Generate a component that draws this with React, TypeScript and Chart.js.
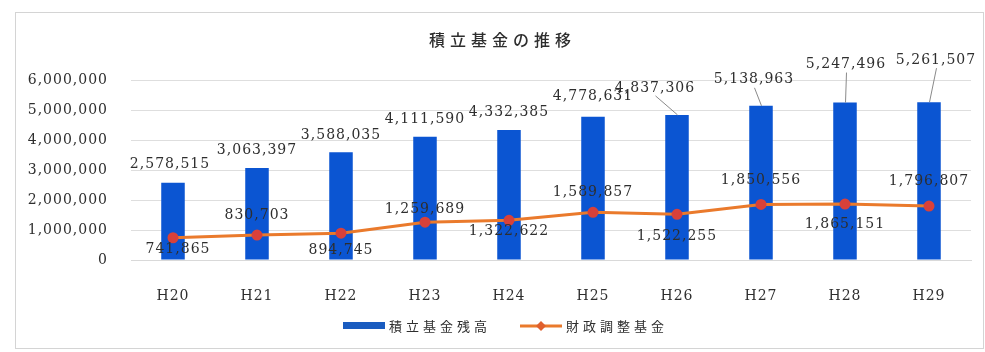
import React, { useEffect, useRef } from "react";
import { Chart, registerables } from "chart.js";

Chart.register(...registerables);

const categories = ["H20", "H21", "H22", "H23", "H24", "H25", "H26", "H27", "H28", "H29"];
const reserveFundBalance = [2578515, 3063397, 3588035, 4111590, 4332385, 4778631, 4837306, 5138963, 5247496, 5261507];
const fiscalAdjustmentFund = [741865, 830703, 894745, 1259689, 1322622, 1589857, 1522255, 1850556, 1865151, 1796807];
const yTicks = [0, 1000000, 2000000, 3000000, 4000000, 5000000, 6000000];
const chartTitle = "積立基金の推移";
const seriesNames = ["積立基金残高", "財政調整基金"];

const BAR_COLOR = "#0b55d2";
const LINE_COLOR = "#ea7a2c";
const MARKER_COLOR = "#d8413a";
const TEXT_COLOR = "#2e2e2e";
const NUM_FONT = "14px 'DejaVu Serif'";
const CJK = "'Noto Sans CJK JP'";

// label placement styling (pixel offsets relative to marks)
const barLabelLift = [18, 18, 17, 17, 18, 20, 27, 26, 38, 42];
const barLabelShift = [-3, 0, 0, 0, 0, 0, -22, -7, 1, 7];
const lineLabelOffset = [12, -20, 17, -13, 11, -20, 22, -24, 20, -25];
const lineLabelShift = [5, 0, 0, 0, 0, 0, 0, 0, 0, 0];

const fmt = (v: number) => v.toLocaleString("en-US");

const customPlugin = {
  id: "custom",
  beforeDraw(chart: any) {
    const ctx = chart.ctx;
    ctx.save();
    ctx.fillStyle = "#ffffff";
    ctx.fillRect(0, 0, chart.width, chart.height);
    ctx.strokeStyle = "#d4d4d4";
    ctx.lineWidth = 1;
    ctx.strokeRect(15.5, 12.5, chart.width - 17, chart.height - 16);
    ctx.restore();
    (ctx as any).letterSpacing = "1px";
  },
  afterDraw(chart: any) {
    const ctx = chart.ctx;
    ctx.save();
    // title
    (ctx as any).letterSpacing = "5px";
    ctx.fillStyle = TEXT_COLOR;
    ctx.font = `500 16px ${CJK}`;
    ctx.textAlign = "center";
    ctx.textBaseline = "middle";
    ctx.fillText(chartTitle, chart.width / 2 + 10, 40);

    // bar labels
    (ctx as any).letterSpacing = "1px";
    ctx.font = NUM_FONT;
    const barMeta = chart.getDatasetMeta(0);
    barMeta.data.forEach((el: any, i: number) => {
      const x = el.x + barLabelShift[i];
      const y = el.y - barLabelLift[i];
      if (barLabelLift[i] > 22) {
        ctx.strokeStyle = "#8a8a8a";
        ctx.lineWidth = 1;
        ctx.beginPath();
        ctx.moveTo(x + 0.5, y + 8);
        ctx.lineTo(el.x + 0.5, el.y);
        ctx.stroke();
      }
      ctx.fillStyle = TEXT_COLOR;
      ctx.fillText(fmt(reserveFundBalance[i]), x, y);
    });
    // line labels
    const lineMeta = chart.getDatasetMeta(1);
    lineMeta.data.forEach((el: any, i: number) => {
      ctx.fillStyle = TEXT_COLOR;
      ctx.fillText(fmt(fiscalAdjustmentFund[i]), el.x + lineLabelShift[i], el.y + lineLabelOffset[i]);
    });

    // legend
    const ly = 326;
    ctx.fillStyle = "#1a5cc0";
    ctx.fillRect(343, ly - 4, 42, 7);
    (ctx as any).letterSpacing = "4px";
    ctx.font = `13px ${CJK}`;
    ctx.textAlign = "left";
    ctx.fillStyle = TEXT_COLOR;
    ctx.fillText(seriesNames[0], 389, ly);
    ctx.strokeStyle = LINE_COLOR;
    ctx.lineWidth = 3;
    ctx.beginPath();
    ctx.moveTo(520, ly);
    ctx.lineTo(562, ly);
    ctx.stroke();
    ctx.fillStyle = "#e0602e";
    ctx.beginPath();
    ctx.moveTo(541, ly - 5);
    ctx.lineTo(546, ly);
    ctx.lineTo(541, ly + 5);
    ctx.lineTo(536, ly);
    ctx.closePath();
    ctx.fill();
    ctx.fillStyle = TEXT_COLOR;
    ctx.fillText(seriesNames[1], 566, ly);
    ctx.restore();
    (ctx as any).letterSpacing = "0px";
  },
};

export default function App() {
  const ref = useRef<HTMLCanvasElement>(null);
  useEffect(() => {
    document.body.style.margin = "0";
    const canvas = ref.current;
    if (!canvas) return;
    const chart = new Chart(canvas, {
      type: "bar",
      data: {
        labels: categories,
        datasets: [
          {
            type: "bar",
            label: seriesNames[0],
            data: reserveFundBalance,
            backgroundColor: BAR_COLOR,
            barPercentage: 0.28,
            categoryPercentage: 1,
            order: 2,
          },
          {
            type: "line",
            label: seriesNames[1],
            data: fiscalAdjustmentFund,
            borderColor: LINE_COLOR,
            borderWidth: 3,
            pointBackgroundColor: MARKER_COLOR,
            pointBorderColor: MARKER_COLOR,
            pointRadius: 4,
            pointStyle: "circle",
            tension: 0,
            order: 1,
          } as any,
        ],
      },
      options: {
        responsive: false,
        animation: false,
        layout: { padding: { left: 16, right: 14, top: 80, bottom: 0 } },
        plugins: {
          legend: { display: false },
          title: { display: false },
          tooltip: { enabled: false },
        },
        scales: {
          x: {
            grid: { display: false },
            border: { display: true, color: "#d9d9d9" },
            ticks: { color: TEXT_COLOR, font: { family: "'DejaVu Serif'", size: 14 }, padding: 20 },
            afterFit: (s: any) => {
              s.height = 92;
            },
          },
          y: {
            min: 0,
            max: 6000000,
            afterBuildTicks: (s: any) => {
              s.ticks = yTicks.map((v) => ({ value: v }));
            },
            grid: { color: "#dedede", drawTicks: false },
            border: { display: false },
            ticks: {
              color: TEXT_COLOR,
              font: { family: "'DejaVu Serif'", size: 14 },
              padding: 23,
              callback: (v: any) => fmt(Number(v)),
            },
            afterFit: (s: any) => {
              s.width = 115;
            },
          },
        },
      },
      plugins: [customPlugin],
    });
    return () => chart.destroy();
  }, []);
  return (
    <div style={{ width: 985, height: 352 }}>
      <canvas ref={ref} width={985} height={352} />
    </div>
  );
}
